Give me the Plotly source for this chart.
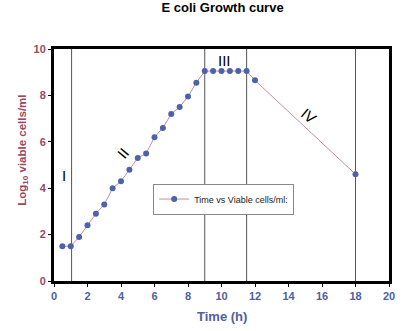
import plotly.graph_objects as go

time_h = [0.5, 1.0, 1.5, 2.0, 2.5, 3.0, 3.5, 4.0, 4.5, 5.0, 5.5, 6.0, 6.5, 7.0, 7.5, 8.0, 8.5,
          9.0, 9.5, 10.0, 10.5, 11.0, 11.5, 12.0, 18.0]
log_cells = [1.5, 1.5, 1.9, 2.4, 2.9, 3.3, 4.0, 4.3, 4.8, 5.3, 5.5, 6.2, 6.6, 7.2, 7.5, 7.95, 8.55,
             9.05, 9.05, 9.05, 9.05, 9.05, 9.05, 8.65, 4.6]
phase_bounds = [1.05, 9.0, 11.5, 18.0]
phase_labels = ["I", "II", "III", "IV"]
phase_label_x = [0.6, 4.1, 10.2, 15.2]
phase_label_y = [4.55, 5.5, 9.5, 7.15]
phase_label_angle = [0, -50, 0, 40]

maroon = "#9B4763"
blue = "#4E5FA2"

fig = go.Figure()
fig.add_trace(go.Scatter(
    x=time_h, y=log_cells, mode="lines+markers",
    name="Time vs Viable cells/ml:",
    line=dict(color="#C98A9C", width=1),
    marker=dict(color="#4D62AA", size=6),
))

for xb in phase_bounds:
    fig.add_shape(type="line", x0=xb, x1=xb, y0=0, y1=10, xref="x", yref="y",
                  line=dict(color="#555555", width=1), layer="below")

for lab, lx, ly, la in zip(phase_labels, phase_label_x, phase_label_y, phase_label_angle):
    fig.add_annotation(x=lx, y=ly, text=lab, showarrow=False, textangle=la,
                       font=dict(family="Arial, Liberation Sans", size=15, color="#000000"))

fig.add_annotation(xref="paper", yref="paper", x=-0.12, y=0.565,
                   text="<b>Log<sub>10</sub> viable cells/ml</b>",
                   textangle=-90, showarrow=False,
                   font=dict(family="Arial, Liberation Sans", size=11.5, color=maroon))
fig.add_annotation(xref="paper", yref="paper", x=0.5, y=-0.155, text="<b>Time (h)</b>",
                   showarrow=False, yanchor="middle",
                   font=dict(family="Arial, Liberation Sans", size=13, color=blue))

fig.update_layout(
    width=420, height=331,
    margin=dict(l=54, r=31, t=49, b=50),
    paper_bgcolor="white", plot_bgcolor="white",
    title=dict(text="<b>E coli Growth curve</b>", x=0.53, xanchor="center", y=0.99, yanchor="top",
               font=dict(family="Arial, Liberation Sans", size=13, color="black")),
    showlegend=True,
    legend=dict(x=0.296, y=0.42, xanchor="left", yanchor="top", bgcolor="white",
                bordercolor="#888888", borderwidth=1,
                font=dict(family="Arial, Liberation Sans", size=9, color="#222222")),
    xaxis=dict(range=[0, 20], tickvals=list(range(0, 21, 2)), showgrid=False, zeroline=False,
               showline=True, mirror=True, linecolor="black", linewidth=3,
               ticks="outside", ticklen=3, tickcolor="black",
               tickfont=dict(family="Arial, Liberation Sans", size=11, color=blue, weight="bold")),
    yaxis=dict(range=[0, 10], tickvals=list(range(0, 11, 2)), showgrid=False, zeroline=False,
               showline=True, mirror=True, linecolor="black", linewidth=3,
               ticks="outside", ticklen=3, tickcolor="black",
               tickfont=dict(family="Arial, Liberation Sans", size=11, color=maroon, weight="bold")),
)

fig.write_html("out.html")
